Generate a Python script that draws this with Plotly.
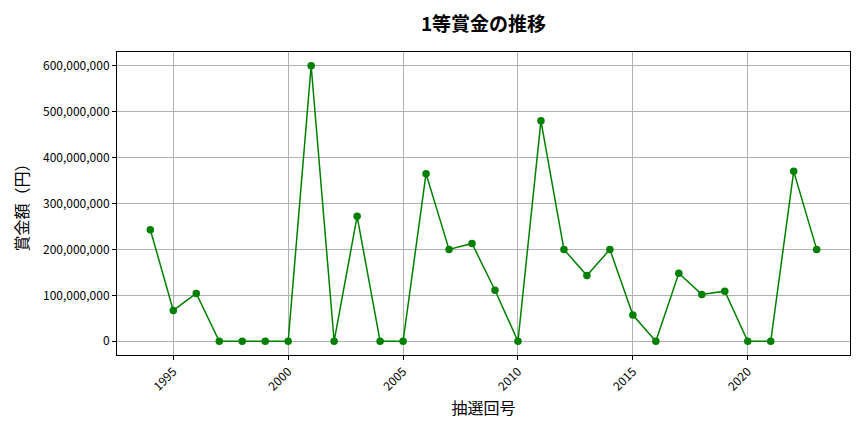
import plotly.graph_objects as go

years = list(range(1994, 2024))
prizes = [243e6, 67e6, 104e6, 0, 0, 0, 0, 600e6, 0, 272e6, 0, 0, 365e6, 200e6, 213e6,
          111e6, 0, 480e6, 200e6, 143e6, 200e6, 57e6, 0, 148e6, 102e6, 109e6, 0, 0, 370e6, 200e6]
x_ticks = [1995, 2000, 2005, 2010, 2015, 2020]
y_ticks = [0, 100e6, 200e6, 300e6, 400e6, 500e6, 600e6]

font = "Noto Sans CJK JP"
W, H = 856, 424
fig = go.Figure()
fig.add_trace(go.Scatter(x=years, y=prizes, mode="lines+markers",
                         line=dict(color="#008000", width=1.5),
                         marker=dict(color="#008000", size=7.5)))
fig.update_layout(
    width=W, height=H,
    margin=dict(l=109, r=14, t=44, b=77),
    paper_bgcolor="white", plot_bgcolor="white",
    showlegend=False,
    font=dict(family=font, color="black", size=12),
    title=dict(text="1等賞金の推移", x=0.5, xref="paper", xanchor="center",
               y=1 - 16 / H, yref="container", yanchor="middle",
               font=dict(size=19, family=font, weight=600)),
)
fig.update_xaxes(range=[1992.55, 2024.45], tickvals=x_ticks, ticktext=[str(v) for v in x_ticks],
                 tickangle=-45, showgrid=True, gridcolor="#b0b0b0", gridwidth=0.8,
                 showline=True, linecolor="black", linewidth=1, mirror=True,
                 ticks="outside", ticklen=4, tickcolor="black", zeroline=False,
                 title=dict(text="抽選回号", font=dict(size=16), standoff=10))
fig.update_yaxes(range=[-30e6, 630e6], tickvals=y_ticks, ticktext=[f"{int(v):,}" for v in y_ticks],
                 showgrid=True, gridcolor="#b0b0b0", gridwidth=0.8,
                 showline=True, linecolor="black", linewidth=1, mirror=True,
                 ticks="outside", ticklen=4, tickcolor="black", zeroline=False,
                 title=dict(text="賞金額（円）", font=dict(size=16), standoff=10))
fig.write_html("out.html")
